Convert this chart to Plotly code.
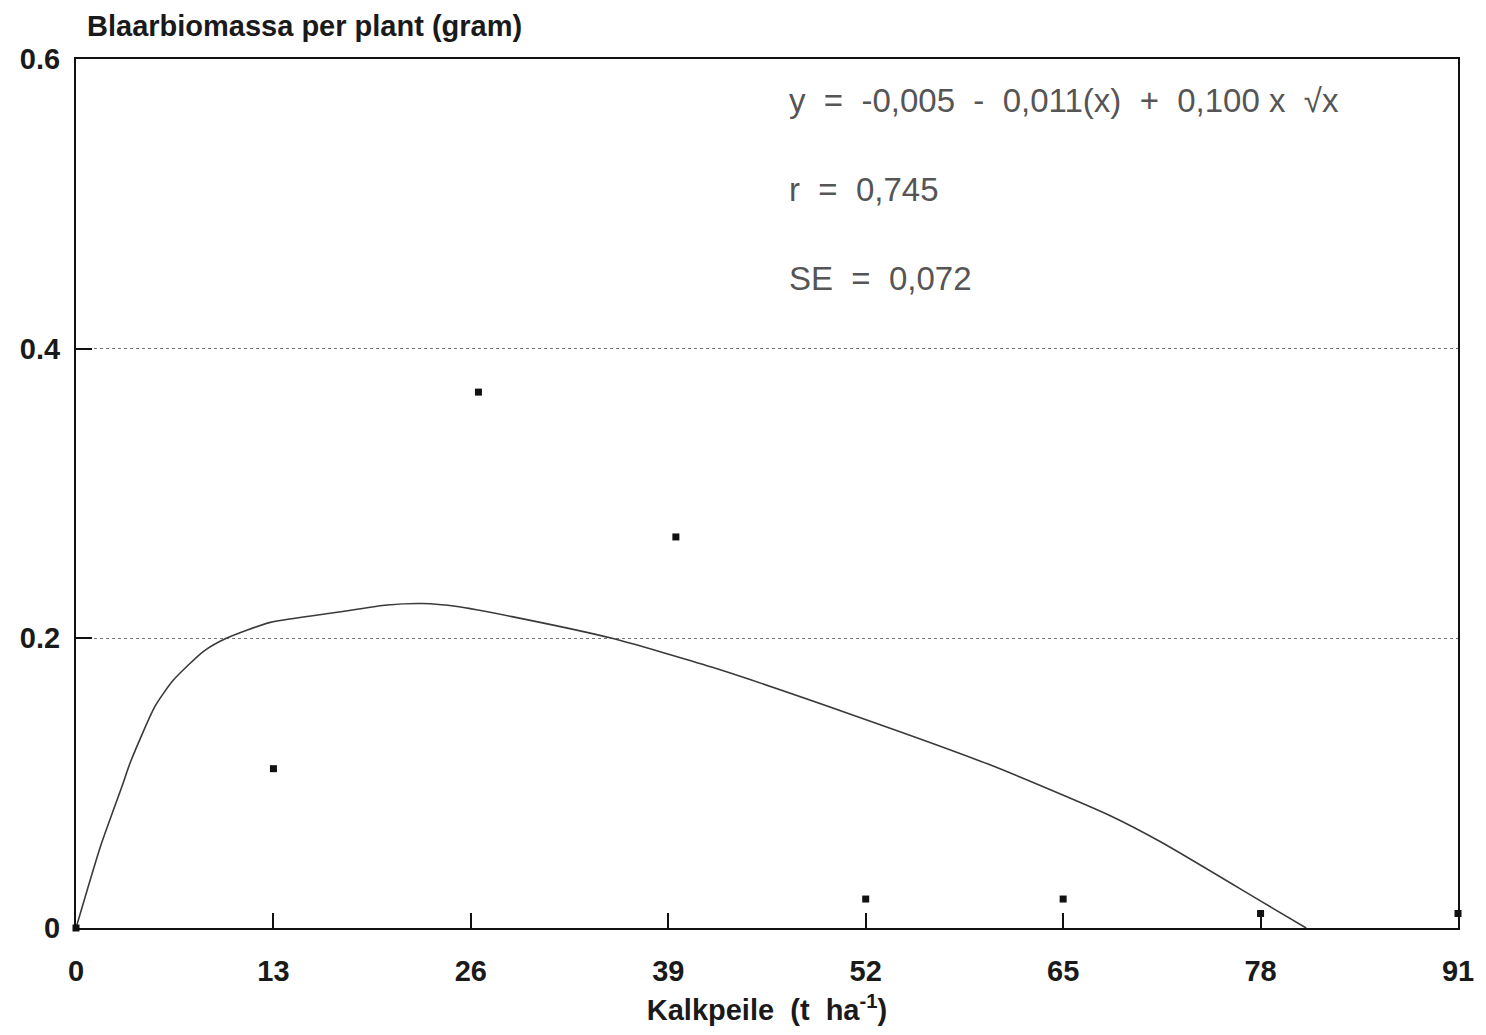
import plotly.graph_objects as go

# Observed data (Kalkpeile t/ha vs leaf biomass per plant, gram)
obs_x = [0, 13, 26.5, 39.5, 52, 65, 78, 91]
obs_y = [0.0, 0.11, 0.37, 0.27, 0.02, 0.02, 0.01, 0.01]

# Fitted curve
fit_x = [0, 1.6, 3.0, 3.6, 5.2, 6.4, 8.4, 9.9, 12.8, 17.2, 20.5, 22.8, 25.1,
         28.7, 35.3, 41.9, 50.9, 60.1, 68.0, 71.5, 78.1, 81.0]
fit_y = [0.0, 0.056, 0.097, 0.115, 0.153, 0.171, 0.191, 0.200, 0.211, 0.218,
         0.223, 0.224, 0.222, 0.215, 0.200, 0.180, 0.148, 0.113, 0.078, 0.059,
         0.018, 0.0]

x_ticks = [0, 13, 26, 39, 52, 65, 78, 91]
y_ticks = [0, 0.2, 0.4, 0.6]
y_tick_labels = ["0", "0.2", "0.4", "0.6"]

stats_lines = ["y  =  -0,005  -  0,011(x)  +  0,100 x  √x",
               "r  =  0,745",
               "SE  =  0,072"]

fig = go.Figure()
fig.add_trace(go.Scatter(x=fit_x, y=fit_y, mode="lines", line_shape="spline",
                         line=dict(color="#3a3a3a", width=1.6, smoothing=0.6),
                         hoverinfo="skip", showlegend=False))
fig.add_trace(go.Scatter(x=obs_x, y=obs_y, mode="markers",
                         marker=dict(symbol="square", size=7, color="#111111"),
                         cliponaxis=False, showlegend=False))

axis_font = dict(family="Liberation Sans", size=29, color="#1a1a1a", weight="bold")

fig.update_xaxes(range=[0, 91], tickvals=x_ticks, ticktext=[str(v) for v in x_ticks],
                 ticks="inside", ticklen=15, tickwidth=2, tickcolor="#111111",
                 showline=True, linecolor="#111111", linewidth=2, mirror=True,
                 showgrid=False, zeroline=False, tickfont=axis_font, ticklabelstandoff=16,
                 title=dict(text="Kalkpeile  (t  ha<sup>-1</sup>)", font=axis_font, standoff=14))
fig.update_yaxes(range=[0, 0.6], tickvals=y_ticks, ticktext=y_tick_labels,
                 ticks="inside", ticklen=16, tickwidth=2, tickcolor="#111111",
                 showline=True, linecolor="#111111", linewidth=2, mirror=True,
                 showgrid=True, gridcolor="#777777", griddash="dot", gridwidth=1.2,
                 zeroline=False, tickfont=axis_font, ticklabelstandoff=8)

for i, txt in enumerate(stats_lines):
    fig.add_annotation(text=txt, xref="paper", yref="paper", x=(788 - 76) / 1384,
                       y=1 - (100 - 59 + i * 89) / 869, xanchor="left", yanchor="middle",
                       showarrow=False,
                       font=dict(family="Liberation Sans", size=33, color="#555555"))

fig.add_annotation(text="Blaarbiomassa per plant (gram)", xref="paper", yref="paper",
                   x=(85 - 76) / 1384, y=1 + (59 - 26) / 869, xanchor="left", yanchor="middle",
                   showarrow=False, font=axis_font)

fig.update_layout(width=1486, height=1035, paper_bgcolor="white", plot_bgcolor="white",
                  margin=dict(l=76, r=26, t=59, b=107))

fig.write_html("out.html")
